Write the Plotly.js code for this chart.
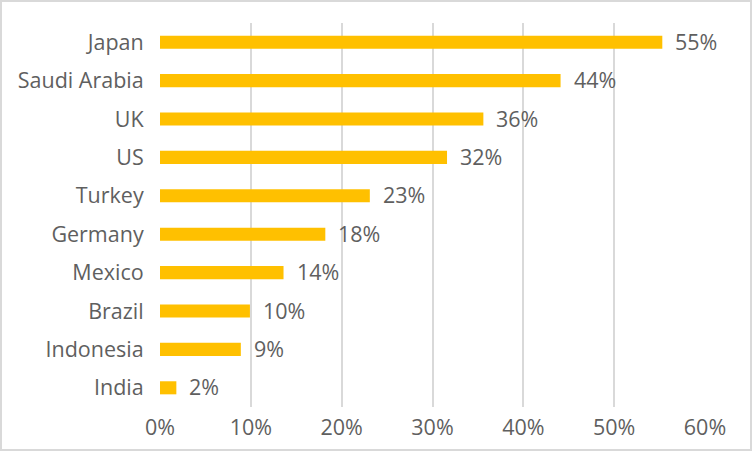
<!DOCTYPE html>
<html>
<head>
<meta charset="utf-8">
<script src="https://cdn.plot.ly/plotly-3.0.1.min.js"></script>
<style>
  html, body { margin: 0; padding: 0; background: #fff; }
  #chart { width: 752px; height: 451px; box-sizing: border-box; border: 2px solid #d9d9d9; }
</style>
</head>
<body>
<div id="chart"></div>
<script>
// valores (fração)
const paises = ['Japan', 'Saudi Arabia', 'UK', 'US', 'Turkey', 'Germany', 'Mexico', 'Brazil', 'Indonesia', 'India'];
const valores = [0.553, 0.441, 0.356, 0.316, 0.231, 0.182, 0.136, 0.099, 0.089, 0.018];
const rotulos = ['55%', '44%', '36%', '32%', '23%', '18%', '14%', '10%', '9%', '2%'];

const fonte = "'Open Sans', 'Noto Sans', sans-serif";
const corTexto = '#5f5f5f';
const tamanho = 21.5;

const trace = {
  x: valores,
  y: paises,
  type: 'bar',
  orientation: 'h',
  width: 0.34,
  marker: { color: '#ffc000' },
  hoverinfo: 'none'
};

const anotacoes = paises.map((p, i) => ({
  x: valores[i],
  y: p,
  xref: 'x',
  yref: 'y',
  text: rotulos[i],
  showarrow: false,
  xanchor: 'left',
  xshift: 11,
  yshift: 1,
  font: { family: fonte, size: tamanho, color: corTexto }
}));

const layout = {
  width: 748,
  height: 447,
  margin: { l: 158, r: 45, t: 21, b: 42 },
  paper_bgcolor: '#fff',
  plot_bgcolor: '#fff',
  showlegend: false,
  font: { family: fonte, size: tamanho, color: corTexto },
  xaxis: {
    range: [0, 0.6],
    dtick: 0.1,
    tickformat: '.0%',
    showgrid: true,
    gridcolor: '#d9d9d9',
    gridwidth: 2,
    zeroline: false,
    showline: false,
    ticks: 'outside',
    ticklen: 1,
    tickcolor: 'rgba(0,0,0,0)',
    tickfont: { family: fonte, size: tamanho, color: corTexto },
    fixedrange: true
  },
  yaxis: {
    autorange: 'reversed',
    showgrid: false,
    zeroline: false,
    showline: false,
    ticks: 'outside',
    ticklen: 11,
    tickcolor: 'rgba(0,0,0,0)',
    tickfont: { family: fonte, size: tamanho, color: corTexto },
    fixedrange: true
  },
  annotations: anotacoes
};

Plotly.newPlot('chart', [trace], layout, { displayModeBar: false, staticPlot: true });
</script>
</body>
</html>
